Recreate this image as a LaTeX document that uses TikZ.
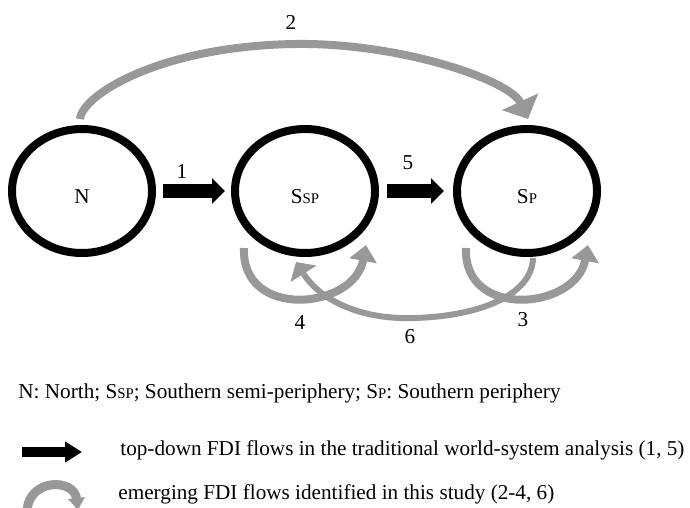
\documentclass[tikz,border=0pt]{standalone}
\usepackage{fontspec}
\setmainfont{Liberation Serif}
\usetikzlibrary{arrows.meta,calc,shapes.geometric}
\definecolor{flowgray}{RGB}{152,152,152}
\newcommand{\smc}[1]{{\fontsize{7.4}{8}\selectfont #1}}

\begin{document}
\begin{tikzpicture}[x=0.5pt,y=-0.5pt,font=\fontsize{10.6}{12}\selectfont,
  region/.style={draw,ellipse,line width=4pt,minimum width=70pt,minimum height=62pt,
                 text height=12.9pt,text depth=0pt,inner sep=0pt},
  lbl/.style={inner sep=0pt},
  topdown/.style={line width=7pt,-{Triangle[length=6.5pt,width=12.5pt]}},
  emerge/.style={line width=4pt,flowgray}]
  \useasboundingbox (0,0) rectangle (690,508);
  % the three zones
  \node[region] (N)   at (82,191)  {N};
  \node[region] (SSP) at (305,191) {S\smc{SP}};
  \node[region] (SP)  at (527,191) {S\smc{P}};
  % traditional flows
  \draw[topdown,shorten <=3.5pt,shorten >=3pt] (N) -- (SSP);
  \draw[topdown,shorten <=4pt,shorten >=4.5pt] (SSP) -- (SP);
  \node[lbl] (l1) at (182,172) {1};
  \node[lbl] (l5) at (408,163) {5};
  % emerging flows
  \draw[emerge,-{Triangle[length=9.5pt,width=19.5pt]}]
    ($(N)+(-2,-72)$) .. controls ($(N)+(0,-96)$) and ($(N)+(78,-145)$) .. ($(N)+(213,-147)$)
    .. controls ($(SP)+(-127,-148.5)$) and ($(SP)+(-17,-111)$) .. ($(SP)+(1,-72)$);
  \node[lbl] (l2) at (291,22) {2};
  \foreach \r in {SSP,SP}
    \draw[emerge,-{Triangle[length=8pt,width=13.5pt]}]
      ($(\r)+(-61,57)$) .. controls ($(\r)+(-64,129)$) and ($(\r)+(49,119)$) .. ($(\r)+(61,54)$);
  \draw[emerge,line width=3pt,-{Triangle[length=7pt,width=15pt]}]
    ($(SP)+(6,67)$) .. controls ($(SP)+(5,104)$) and ($(SP)+(-47,125)$) .. ($(SP)+(-112,127)$)
    .. controls ($(SSP)+(55,129)$) and ($(SSP)+(15,109)$) .. ($(SSP)+(-9,71)$);
  \node[lbl] (l4) at (300,323) {4};
  \node[lbl] (l6) at (410,337) {6};
  \node[lbl] (l3) at (523,320) {3};
  % key
  \node[lbl,anchor=west] (abbr) at (18,393)
    {N: North; S\smc{SP}; Southern semi-periphery; S\smc{P}: Southern periphery};
  \coordinate (td0) at (22,452);
  \coordinate (td1) at (82,452);
  \draw[line width=5pt,-{Triangle[length=8.5pt,width=10pt]}] (td0) -- (td1);
  \node[lbl,anchor=west] (tdkey) at (120,450)
    {top-down FDI flows in the traditional world-system analysis (1, 5)};
  \coordinate (em0) at (27,512);
  \coordinate (em1) at (78,510);
  \draw[emerge,line width=4.5pt,-{Triangle[length=6pt,width=8pt]}] (em0) .. controls (28,478) and (74,478) .. (em1);
  \node[lbl,anchor=west] (emkey) at (118,494)
    {emerging FDI flows identified in this study (2-4, 6)};
\end{tikzpicture}
\end{document}
